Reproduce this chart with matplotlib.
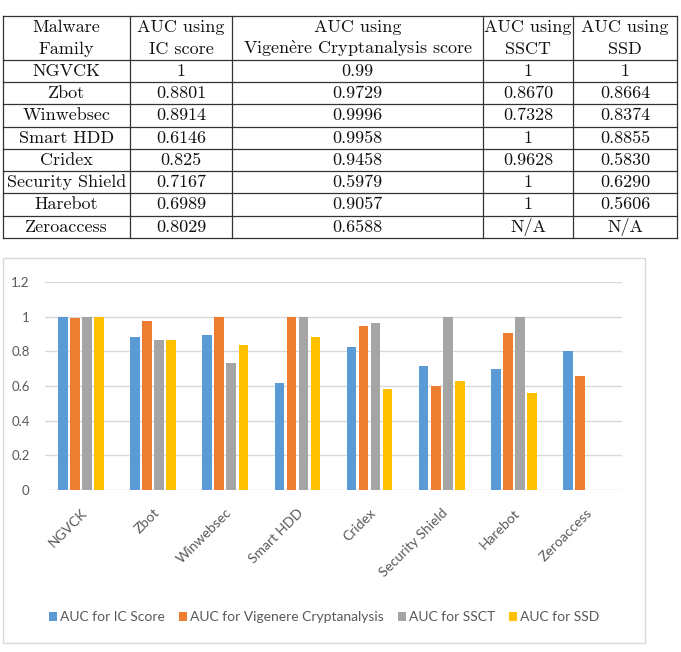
import numpy as np
import matplotlib
matplotlib.use("Agg")
import matplotlib.pyplot as plt
from matplotlib.patches import Rectangle

plt.rcParams['axes.formatter.use_mathtext'] = True
plt.rcParams['mathtext.fontset'] = 'cm'

# ---------------- data ----------------
families = ["NGVCK", "Zbot", "Winwebsec", "Smart HDD", "Cridex",
            "Security Shield", "Harebot", "Zeroaccess"]
auc_ic = [1, 0.8801, 0.8914, 0.6146, 0.825, 0.7167, 0.6989, 0.8029]
auc_vig = [0.99, 0.9729, 0.9996, 0.9958, 0.9458, 0.5979, 0.9057, 0.6588]
auc_ssct = [1, 0.8670, 0.7328, 1, 0.9628, 1, 1, np.nan]
auc_ssd = [1, 0.8664, 0.8374, 0.8855, 0.5830, 0.6290, 0.5606, np.nan]

table_header = [["Malware", "Family"], ["AUC using", "IC score"],
                ["AUC using", r"Vigen$\grave{\mathrm{e}}$re Cryptanalysis score"],
                ["AUC using", "SSCT"], ["AUC using", "SSD"]]
table_ic = ["1", "0.8801", "0.8914", "0.6146", "0.825", "0.7167", "0.6989", "0.8029"]
table_vig = ["0.99", "0.9729", "0.9996", "0.9958", "0.9458", "0.5979", "0.9057", "0.6588"]
table_ssct = ["1", "0.8670", "0.7328", "1", "0.9628", "1", "1", "N/A"]
table_ssd = ["1", "0.8664", "0.8374", "0.8855", "0.5830", "0.6290", "0.5606", "N/A"]

legend_labels = ["AUC for IC Score", "AUC for Vigenere Cryptanalysis",
                 "AUC for SSCT", "AUC for SSD"]
colors = ["#5B9BD5", "#ED7D31", "#A5A5A5", "#FFC000"]
yticks = [0, 0.2, 0.4, 0.6, 0.8, 1.0, 1.2]
ytick_labels = ["0", "0.2", "0.4", "0.6", "0.8", "1", "1.2"]

W, H = 681, 652
fig = plt.figure(figsize=(W / 100, H / 100), dpi=100)

# ---------------- table ----------------
tax = fig.add_axes([0, 0, 1, 1])
tax.set_xlim(0, W)
tax.set_ylim(H, 0)
tax.axis("off")

col_x = [3, 130, 232, 483, 573, 677]
row_y = [16, 60, 82, 104, 127, 149, 171, 193, 216, 238]
tfont = dict(family=["cmr10", "DejaVu Serif"], fontsize=13, color="#111111")
lw = 0.9
for y in row_y:
    tax.plot([col_x[0], col_x[-1]], [y, y], color="#333333", lw=lw)
for x in col_x:
    tax.plot([x, x], [row_y[0], row_y[-1]], color="#333333", lw=lw)

for j, (l1, l2) in enumerate(table_header):
    cx = (col_x[j] + col_x[j + 1]) / 2
    tax.text(cx, 27, l1, ha="center", va="center", **tfont)
    tax.text(cx, 49, l2, ha="center", va="center", **tfont)

columns = [families, table_ic, table_vig, table_ssct, table_ssd]
for j, col in enumerate(columns):
    cx = (col_x[j] + col_x[j + 1]) / 2
    for i, s in enumerate(col):
        cy = (row_y[i + 1] + row_y[i + 2]) / 2
        tax.text(cx, cy, s, ha="center", va="center", **tfont)

# chart outer frame
fig.patches.append(Rectangle((3 / W, 1 - 643 / H), 642 / W, 385 / H,
                             transform=fig.transFigure, fill=False,
                             edgecolor="#D9D9D9", lw=1.0))

# ---------------- bar chart ----------------
ax = fig.add_axes([45 / W, 1 - 490 / H, 577 / W, 208 / H])
x = np.arange(len(families))
slot = 0.167
bw = 0.135
series = [auc_ic, auc_vig, auc_ssct, auc_ssd]
for k, (vals, c) in enumerate(zip(series, colors)):
    ax.bar(x + (k - 1.5) * slot, vals, width=bw, color=c, label=legend_labels[k],
           zorder=3)

ax.set_xlim(-0.5, len(families) - 0.5)
ax.set_ylim(0, 1.2)
ax.set_yticks(yticks)
ax.set_yticklabels(ytick_labels)
ax.yaxis.grid(True, color="#D9D9D9", lw=1.0, zorder=0)
for s in ax.spines.values():
    s.set_visible(False)
ax.tick_params(axis="both", length=0, colors="#595959", labelsize=9.5)
ax.tick_params(axis="y", pad=11)
for lab in ax.get_yticklabels():
    lab.set_family("Lato")
ax.set_xticks(x)
ax.set_xticklabels(families, rotation=45, ha="right", va="top",
                   rotation_mode="anchor", family="Lato", fontsize=10,
                   color="#595959")
ax.tick_params(axis="x", pad=12)

handles, labels = ax.get_legend_handles_labels()
fig.legend(handles, labels, loc="center", bbox_to_anchor=(324 / W, 1 - 617 / H),
           ncol=4, frameon=False, handlelength=0.6, handleheight=0.6,
           handletextpad=0.2, columnspacing=1.0,
           prop=dict(family="Lato", size=10), labelcolor="#595959")

fig.savefig("out.png", dpi=100)
